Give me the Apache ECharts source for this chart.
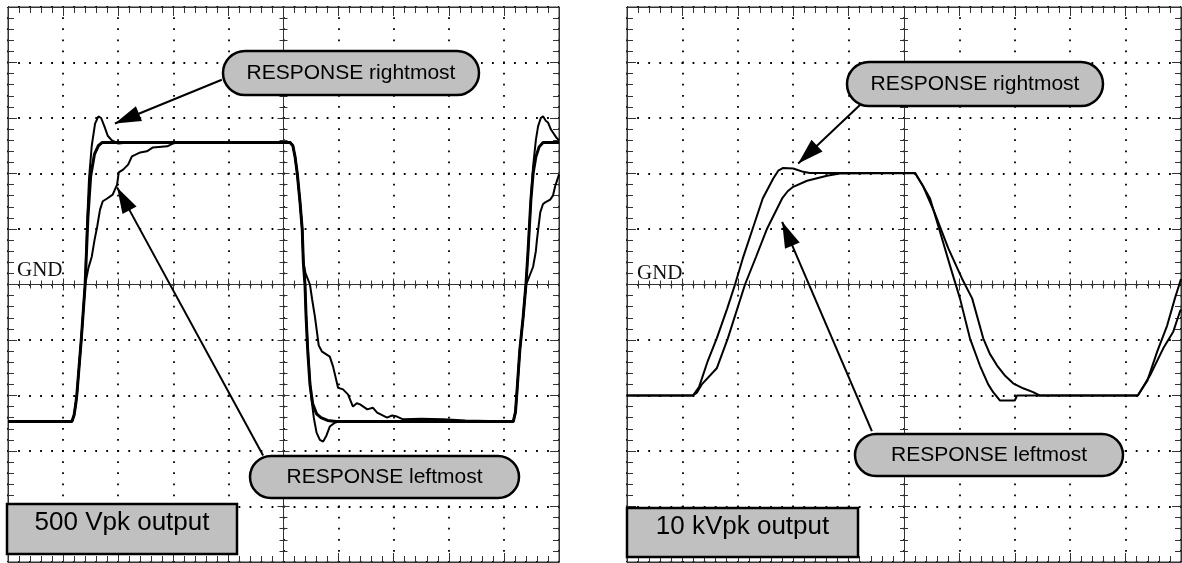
<!DOCTYPE html>
<html>
<head>
<meta charset="utf-8">
<script src="https://cdn.jsdelivr.net/npm/echarts@6/dist/echarts.min.js"></script>
<style>
  html, body { margin: 0; padding: 0; background: #fff; }
  #main { width: 1182px; height: 563px; }
</style>
</head>
<body>
<div id="main"></div>
<script>
// scope traces: [time (div), level (div)], GND = 0

// 500 Vpk panel
const drive500 = [[0,-2.47],[1.16,-2.47],[1.20,-2.35],[1.23,-2.15],[1.25,-1.98],[1.33,-0.99],[1.40,0],[1.45,1.2],[1.50,1.95],[1.57,2.35],[1.64,2.5],[1.71,2.56],
  [5.12,2.56],[5.17,2.5],[5.21,2.3],[5.25,2.0],[5.30,1.48],[5.34,0.99],[5.36,0.4],[5.39,0],[5.41,-0.58],[5.44,-1.2],[5.48,-1.8],[5.53,-2.15],[5.60,-2.33],[5.68,-2.4],[5.80,-2.45],[5.95,-2.47],
  [9.17,-2.47],[9.21,-2.3],[9.24,-1.89],[9.29,-1.17],[9.35,-0.58],[9.40,0],[9.44,0.63],[9.49,1.53],[9.53,2.0],[9.58,2.3],[9.64,2.48],[9.71,2.56],[10,2.56]];

const resp500Right = [[0,-2.47],[1.16,-2.47],[1.20,-2.35],[1.23,-2.15],[1.25,-1.98],[1.33,-0.99],[1.40,0],[1.44,1.2],[1.47,1.9],[1.52,2.5],[1.58,2.9],[1.64,3.03],[1.69,3.0],[1.75,2.85],[1.81,2.68],[1.88,2.6],[2.0,2.54],[2.2,2.56],
  [5.12,2.56],[5.17,2.5],[5.21,2.3],[5.25,2.0],[5.30,1.48],[5.34,0.99],[5.36,0.4],[5.39,0],[5.41,-0.58],[5.45,-1.3],[5.50,-2.0],[5.55,-2.4],[5.60,-2.67],[5.66,-2.8],[5.72,-2.83],[5.78,-2.72],[5.84,-2.56],[5.93,-2.49],[6.0,-2.47],
  [9.17,-2.47],[9.21,-2.3],[9.24,-1.89],[9.29,-1.17],[9.35,-0.58],[9.40,0],[9.44,0.63],[9.49,1.53],[9.53,2.13],[9.58,2.6],[9.62,2.85],[9.67,3.0],[9.71,3.03],[9.76,2.95],[9.80,2.92],[9.85,2.8],[9.89,2.74],[9.95,2.65],[10,2.6]];

const resp500Left = [[0,-2.47],[1.16,-2.47],[1.20,-2.35],[1.23,-2.15],[1.25,-1.98],[1.33,-0.99],[1.40,0],[1.46,0.3],[1.52,0.5],[1.57,0.8],[1.62,1.05],[1.67,1.35],[1.72,1.5],[1.80,1.55],[1.90,1.62],[1.98,1.8],[2.01,2.02],[2.09,2.07],[2.18,2.16],[2.25,2.31],[2.40,2.38],[2.52,2.40],[2.63,2.47],[2.89,2.49],[2.99,2.54],[3.09,2.56],
  [5.12,2.56],[5.17,2.5],[5.21,2.3],[5.25,2.0],[5.30,1.48],[5.34,0.99],[5.36,0.4],[5.40,0.2],[5.48,0],[5.52,-0.27],[5.57,-0.58],[5.64,-1.1],[5.70,-1.21],[5.84,-1.30],[5.90,-1.48],[5.99,-1.86],[6.08,-1.89],[6.17,-1.98],[6.26,-2.2],[6.33,-2.14],[6.39,-2.16],[6.52,-2.25],[6.62,-2.22],[6.70,-2.31],[6.88,-2.40],[6.97,-2.36],[7.06,-2.38],[7.17,-2.43],[7.5,-2.42],[7.9,-2.43],[8.3,-2.45],
  [9.17,-2.47],[9.21,-2.3],[9.24,-1.89],[9.29,-1.17],[9.35,-0.58],[9.40,0],[9.44,0.09],[9.53,0.32],[9.58,0.6],[9.60,0.81],[9.66,1.30],[9.71,1.45],[9.75,1.48],[9.84,1.53],[9.89,1.6],[9.93,1.77],[10,1.98]];

// 10 kVpk panel
const resp10kRight = [[0,-2.0],[1.19,-2.0],[1.30,-1.85],[1.45,-1.4],[1.62,-0.97],[1.81,-0.43],[1.95,0],[2.09,0.47],[2.27,1.01],[2.45,1.55],[2.64,1.91],[2.73,2.05],[2.82,2.10],[3.00,2.09],[3.18,2.03],[3.3,2.01],
  [5.20,2.01],[5.34,1.78],[5.47,1.55],[5.65,0.95],[5.83,0.34],[6.01,-0.25],[6.19,-0.97],[6.37,-1.46],[6.52,-1.8],[6.61,-1.94],[6.73,-2.09],[7.00,-2.09],[7.04,-2.0],
  [9.22,-2.0],[9.39,-1.74],[9.57,-1.21],[9.75,-0.74],[9.89,-0.25],[10,0.1]];

const resp10kLeft = [[0,-2.0],[1.19,-2.0],[1.26,-1.95],[1.35,-1.8],[1.62,-1.51],[1.82,-0.97],[2.13,0],[2.33,0.5],[2.53,1.01],[2.80,1.55],[2.90,1.68],[3.00,1.76],[3.25,1.87],[3.61,1.96],[3.84,2.0],
  [5.20,2.01],[5.34,1.78],[5.55,1.3],[5.80,0.65],[6.05,0.1],[6.23,-0.25],[6.43,-0.97],[6.55,-1.25],[6.68,-1.46],[6.83,-1.65],[6.97,-1.78],[7.15,-1.87],[7.33,-1.94],[7.45,-2.0],
  [9.22,-2.0],[9.44,-1.64],[9.68,-1.15],[9.86,-0.85],[9.98,-0.49],[10,-0.45]];

// callout arrows: [from, tip] in divisions
const arrows500 = [[[3.88, 3.69], [1.94, 2.90]], [[4.63, -3.08], [1.98, 1.75]]];
const arrows10k = [[[4.21, 3.24], [3.09, 2.18]], [[4.42, -2.64], [2.80, 1.13]]];

const timeTicks = [0, 10];
const levelTicks = [-5, 5];

const panels = [
  {left: 8, top: 7, width: 551, height: 555},
  {left: 627, top: 7, width: 554, height: 555}
];

const chart = echarts.init(document.getElementById('main'));

const frame = '#333';
function axisSet(dim, gi, p) {
  const isX = dim === 'x';
  const half = isX ? p.height / 2 : p.width / 2;
  const base = {
    gridIndex: gi, type: 'value',
    min: isX ? timeTicks[0] : levelTicks[0],
    max: isX ? timeTicks[1] : levelTicks[1],
    interval: 1,
    axisLabel: {show: false},
    splitLine: {show: false}
  };
  const tick = (inside, len, minorLen) => ({
    axisTick: {show: true, inside: inside, length: len, lineStyle: {color: frame, width: 1}},
    minorTick: {show: true, splitNumber: 5, length: minorLen, lineStyle: {color: frame, width: 1}}
  });
  const line = {axisLine: {show: true, onZero: false, lineStyle: {color: frame, width: 1}}};
  const pos = isX ? ['bottom', 'top'] : ['left', 'right'];
  // dots every fifth of a division
  const step = isX ? p.height / 50 : p.width / 50;
  return [
    Object.assign({}, base, line, tick(true, 9, 6), {
      position: pos[0],
      splitLine: {show: true, lineStyle: {color: '#000', width: 1.8,
        type: [1.8, step - 1.8], dashOffset: 0.9}}
    }),
    Object.assign({}, base, line, tick(true, 9, 6), {position: pos[1]}),
    Object.assign({}, base, line, tick(true, 6, 4), {position: pos[0], offset: -half}),
    Object.assign({}, base, line, tick(false, 6, 4), {position: pos[0], offset: -half})
  ];
}

function trace(gi, data, width, arrows) {
  const s = {
    type: 'line', xAxisIndex: gi * 4, yAxisIndex: gi * 4, data: data,
    symbol: 'none', showSymbol: false, animation: false,
    lineStyle: {color: '#000', width: width}
  };
  if (arrows) {
    s.markLine = {
      silent: true, animation: false,
      label: {show: false},
      lineStyle: {color: '#000', width: 2, type: 'solid'},
      itemStyle: {color: '#000'},
      data: arrows.map(a => [
        {coord: a[0], symbol: 'none', symbolSize: 1},
        {coord: a[1], symbol: 'triangle', symbolSize: [16, 26], symbolOffset: [0, 13]}
      ])
    };
  }
  return s;
}

function pill(x, y, w, h, text) {
  return [
    {type: 'rect', z: 100, shape: {x: x, y: y, width: w, height: h, r: h / 2},
      style: {fill: '#c0c0c0', stroke: '#000', lineWidth: 2.5}},
    {type: 'text', z: 101, style: {x: x + w / 2, y: y + h / 2, text: text,
      font: '21px "Liberation Sans", Arial, sans-serif', fill: '#000', align: 'center', verticalAlign: 'middle'}}
  ];
}
function plate(x, y, w, h, text) {
  return [
    {type: 'rect', z: 100, shape: {x: x, y: y, width: w, height: h},
      style: {fill: '#c0c0c0', stroke: '#000', lineWidth: 2.5}},
    {type: 'text', z: 101, style: {x: x + w / 2, y: y + h / 2 - 6, text: text,
      font: '26px "Liberation Sans", Arial, sans-serif', fill: '#000', align: 'center', verticalAlign: 'middle'}}
  ];
}
function gnd(x, y) {
  return {type: 'text', z: 101, style: {x: x, y: y, text: 'GND',
    font: '21px "Liberation Serif", "DejaVu Serif", serif', fill: '#111', align: 'left', verticalAlign: 'middle'}};
}

const option = {
  backgroundColor: '#fff',
  animation: false,
  grid: panels.map(p => ({left: p.left, top: p.top, width: p.width, height: p.height,
    show: true, borderColor: frame, borderWidth: 1, backgroundColor: 'transparent'})),
  xAxis: [].concat(axisSet('x', 0, panels[0]), axisSet('x', 1, panels[1])),
  yAxis: [].concat(axisSet('y', 0, panels[0]), axisSet('y', 1, panels[1])),
  series: [
    trace(0, resp500Right, 2, arrows500),
    trace(0, resp500Left, 2),
    trace(0, drive500, 3),
    trace(1, resp10kRight, 2, arrows10k),
    trace(1, resp10kLeft, 2)
  ],
  graphic: [].concat(
    pill(223, 51, 256, 44, 'RESPONSE rightmost'),
    pill(250, 456, 269, 42, 'RESPONSE leftmost'),
    plate(7, 504, 230, 50, '500 Vpk output'),
    pill(847, 62, 256, 44, 'RESPONSE rightmost'),
    pill(855, 434, 268, 42, 'RESPONSE leftmost'),
    plate(627, 508, 231, 49, '10 kVpk output'),
    [gnd(17, 270), gnd(637, 273)]
  )
};
chart.setOption(option);
</script>
</body>
</html>
